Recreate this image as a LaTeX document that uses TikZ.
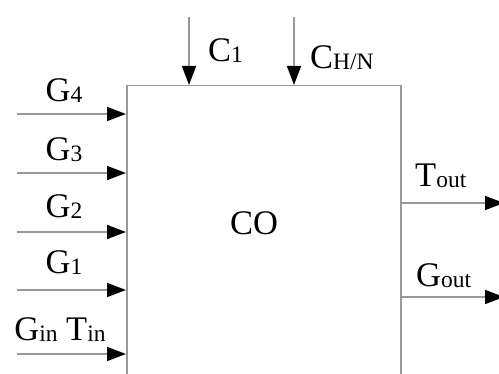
\documentclass[tikz,border=0pt]{standalone}
\usepackage{fontspec}
\setmainfont{Liberation Serif}
\usetikzlibrary{arrows.meta}
\newcommand{\subx}[1]{{\fontsize{23.5}{23.5}\selectfont\raisebox{-1pt}{#1}}}
\tikzset{
  lineg/.style={draw=black!40, line width=1.5pt},
  arr/.style={lineg, -{Triangle[length=19pt,width=14pt,color=black]}},
  lbl/.style={font=\fontsize{34.5}{34.5}\selectfont, inner sep=0pt, anchor=center},
}
\begin{document}
\begin{tikzpicture}[x=1pt,y=-1pt]
\useasboundingbox (0,0) rectangle (499,374);
% box (extends below the picture)
\node[lineg, minimum width=274pt, minimum height=330pt, inner sep=0pt, anchor=north west] (box) at (126,85) {};
\node[lbl] (co) at (254,223) {CO};
% left inputs
\coordinate (g4s) at (17,114);
\coordinate (g3s) at (17,173);
\coordinate (g2s) at (17,232);
\coordinate (g1s) at (17,290);
\coordinate (gis) at (17,354);
\draw[arr] (g4s) -- (g4s -| box.west);
\draw[arr] (g3s) -- (g3s -| box.west);
\draw[arr] (g2s) -- (g2s -| box.west);
\draw[arr] (g1s) -- (g1s -| box.west);
\draw[arr] (gis) -- (gis -| box.west);
\node[lbl] (lg4) at (64,91) {G\subx{4}};
\node[lbl] (lg3) at (64,150) {G\subx{3}};
\node[lbl] (lg2) at (64,207) {G\subx{2}};
\node[lbl] (lg1) at (64,263) {G\subx{1}};
\node[lbl] (lgi) at (60,330) {G\subx{in} T\subx{in}};
% top inputs
\coordinate (c1s) at (189,17);
\coordinate (chs) at (294,17);
\draw[arr] (c1s) -- (c1s |- box.north);
\draw[arr] (chs) -- (chs |- box.north);
\node[lbl, anchor=west] (lc1) at (208,51) {C\subx{1}};
\node[lbl, anchor=west] (lch) at (310,58) {C\subx{H/N}};
% right outputs
\coordinate (toe) at (504,203);
\coordinate (goe) at (504,297);
\draw[arr] (toe -| box.east) -- (toe);
\draw[arr] (goe -| box.east) -- (goe);
\node[lbl, anchor=west] (lto) at (415,176) {T\subx{out}};
\node[lbl, anchor=west] (lgo) at (416,276) {G\subx{out}};
\end{tikzpicture}
\end{document}
